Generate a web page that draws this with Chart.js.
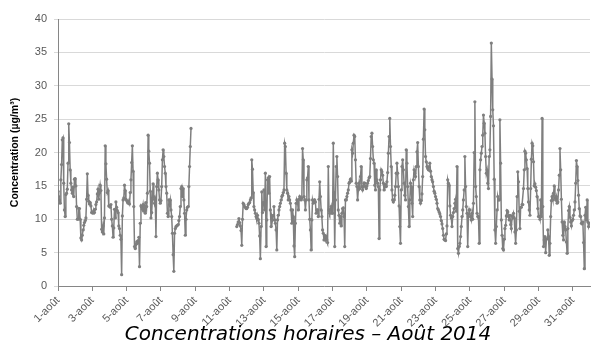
<!DOCTYPE html>
<html lang="fr">
<head>
<meta charset="utf-8">
<title>Concentrations horaires – Août 2014</title>
<script src="https://cdn.jsdelivr.net/npm/chart.js@4.4.1/dist/chart.umd.min.js"></script>
<style>
  html, body { margin: 0; padding: 0; background: #fff; }
  canvas { display: block; }
</style>
</head>
<body>
<canvas id="conc-chart" width="594" height="352"></canvas>
<script>
// Hourly concentrations, one row per day (24 values, null = no measurement)
const concentrations = [
  /* 1 */ 14.2, 13.4, 12.9, 12.4, 15.9, 18.2, 21.9, 22.2, 15.4, 11.4, 10.4, 13.7, 13.9, 14.5, 18.4, 24.3, 21.5, 17.4, 15.4, 14.4, 13.9, 14.8, 13.4, 16.0,
  /* 2 */ 16.1, 15.0, 11.9, 10.0, 10.0, 11.6, 11.6, 10.0, 7.2, 6.9, 7.6, 8.4, 9.1, 9.5, 9.8, 10.2, 13.0, 16.8, 13.6, 12.7, 12.3, 12.5, 12.0, 11.0,
  /* 3 */ 11.0, 10.9, 11.3, 11.0, 11.5, 12.2, 12.6, 13.8, 14.5, 13.0, 14.0, 15.1, 14.3, 8.5, 8.1, 9.0, 7.8, 10.2, 21.0, 18.3, 16.0, 14.0, 14.3, 12.0,
  /* 4 */ 12.0, 11.8, 12.2, 10.0, 9.0, 7.3, 8.7, 11.5, 10.2, 12.6, 11.8, 11.3, 11.0, 9.0, 8.6, 7.6, 7.0, 1.7, 10.5, 12.9, 13.2, 15.1, 14.3, 13.0,
  /* 5 */ 12.8, 12.6, 12.4, 12.6, 12.3, 14.0, 15.9, 18.5, 21.0, 17.2, 11.9, 5.9, 5.6, 6.2, 6.6, 6.4, 6.8, 7.3, 2.9, 9.4, 12.0, 11.8, 11.5, 12.2,
  /* 6 */ 11.2, 11.9, 10.9, 12.5, 11.9, 13.9, 22.6, 20.2, 18.4, 14.2, 10.2, 11.0, 13.0, 15.3, 13.4, 12.4, 12.9, 7.4, 14.9, 16.9, 15.9, 14.4, 12.9, 12.4,
  /* 7 */ 12.8, 14.9, 18.9, 20.4, 19.4, 17.9, 16.9, 14.9, 13.9, 10.9, 10.4, 12.9, 12.2, 12.9, 11.4, 10.4, 7.9, 4.7, 2.2, 7.9, 8.6, 8.9, 9.0, 9.1,
  /* 8 */ 9.2, 9.8, 10.4, 11.9, 14.6, 14.9, 13.4, 14.6, 12.9, 10.9, 7.6, 10.0, 11.4, 11.8, 11.9, 14.9, 17.9, 20.9, 23.6, null, null, null, null, null,
  /* 9 */ null, null, null, null, null, null, null, null, null, null, null, null, null, null, null, null, null, null, null, null, null, null, null, null,
  /* 10 */ null, null, null, null, null, null, null, null, null, null, null, null, null, null, null, null, null, null, null, null, null, null, null, null,
  /* 11 */ null, null, null, null, null, null, null, null, null, null, 8.9, 9.2, 9.6, 10.1, 9.5, 9.0, 8.3, 6.1, 10.0, 12.4, 12.2, 11.9, 11.8, 11.6,
  /* 12 */ 11.6, 11.8, 12.2, 12.4, 12.5, 12.9, 13.2, 18.9, 17.5, 14.0, 11.9, 11.4, 10.9, 10.4, 10.1, 10.6, 10.0, 9.4, 7.5, 4.1, 8.9, 14.1, 11.0, 12.5,
  /* 13 */ 14.4, 11.4, 16.9, 5.9, 9.9, 15.9, 16.2, 13.9, 16.4, 11.4, 8.9, 10.4, 9.9, 10.6, 11.9, 9.9, 9.4, 8.4, 5.4, 9.9, 10.6, 11.4, 11.9, 12.4,
  /* 14 */ 12.9, 13.4, 13.6, 14.0, 14.4, 21.4, 20.9, 16.9, 14.4, 13.9, 12.9, 13.4, 12.9, 12.4, 11.4, 9.4, 11.4, 10.4, 6.0, 4.4, 9.4, 12.4, 12.9, 12.6,
  /* 15 */ 11.4, 13.0, 13.4, 13.0, 12.9, 13.2, 20.6, 18.9, 13.4, 12.9, 11.4, 12.9, 15.9, 16.2, 17.9, 12.9, 10.0, 8.4, 5.4, 9.9, 12.9, 12.4, 12.6, 12.9,
  /* 16 */ 12.6, 10.9, 11.4, 11.4, 10.4, 13.0, 15.6, 13.4, 11.4, 10.4, 8.4, 7.9, 6.9, 7.6, 6.9, 7.4, 6.9, 6.5, 17.9, 11.4, 10.9, 11.4, 11.9, 10.9,
  /* 17 */ 10.9, 21.4, 14.0, 5.9, 12.9, 17.9, 19.4, 16.4, 11.4, 10.6, 9.4, 10.4, 9.0, 10.9, 11.6, 11.7, 10.4, 5.9, 12.9, 12.9, 13.4, 13.9, 14.4, 15.4,
  /* 18 */ 15.6, 16.0, 15.7, 20.4, 19.9, 21.4, 22.6, 22.4, 18.9, 15.4, 14.9, 12.9, 14.4, 15.4, 14.6, 16.4, 17.9, 14.9, 14.4, 14.9, 15.4, 15.4, 14.9, 14.6,
  /* 19 */ 15.0, 15.4, 15.8, 16.2, 16.4, 19.1, 22.4, 22.9, 20.9, 18.9, 18.4, 15.1, 14.4, 17.4, 15.9, 15.4, 14.9, 7.1, 14.4, 15.9, 17.4, 17.1, 16.6, 15.4,
  /* 20 */ 14.4, 15.0, 15.2, 14.9, 15.6, 17.0, 19.9, 22.4, 25.1, 20.9, 17.9, 14.4, 12.9, 12.6, 12.9, 13.6, 14.9, 16.9, 18.4, 16.9, 14.9, 12.0, 8.9, 6.4,
  /* 21 */ 14.4, 17.9, 18.9, 17.4, 15.4, 13.6, 12.9, 20.4, 18.4, 14.9, 11.9, 8.9, 12.9, 15.4, 14.9, 12.4, 10.4, 15.9, 17.4, 16.9, 16.4, 17.9, 20.1, 21.5,
  /* 22 */ 17.9, 14.9, 12.9, 12.4, 12.8, 13.8, 16.4, 22.0, 26.5, 23.4, 19.4, 18.6, 17.9, 17.6, 17.4, 17.9, 18.4, 17.2, 16.4, 15.9, 15.6, 14.9, 14.2, 13.9,
  /* 23 */ 13.4, 13.0, 12.4, 11.6, 11.4, 11.1, 10.8, 10.4, 9.8, 9.3, 8.6, 7.6, 7.0, 6.9, 6.8, 7.8, 9.0, 15.9, 15.4, 15.1, 12.0, 10.6, 10.2, 8.9,
  /* 24 */ 10.4, 11.0, 11.6, 12.4, 13.0, 11.2, 17.9, 5.6, 4.9, 5.9, 6.4, 7.4, 8.9, 10.4, 11.4, 12.9, 14.4, 19.4, 14.9, 11.9, 10.9, 5.9, 10.4, 11.4,
  /* 25 */ 11.4, 10.4, 9.9, 10.9, 10.0, 12.4, 20.0, 27.6, 14.9, 13.4, 10.9, 10.4, 10.4, 6.4, 17.4, 18.9, 19.9, 20.9, 22.6, 25.6, 24.4, 22.9, 19.4, 16.9,
  /* 26 */ 17.4, 15.4, 14.6, 19.4, 20.4, 25.4, 36.4, 31.0, 26.4, 24.0, 16.0, 8.4, 6.4, 8.9, 11.4, 13.4, 12.9, 12.9, 24.9, 18.4, 9.9, 7.6, 5.6, 5.4,
  /* 27 */ 7.0, 8.6, 9.1, 10.5, 11.3, 11.1, 10.4, 9.9, 10.6, 9.2, 8.6, 10.5, 10.4, 10.9, 10.2, 8.1, 6.4, 8.4, 13.4, 17.1, 15.6, 11.2, 8.6, 11.8,
  /* 28 */ 11.8, 12.2, 12.2, 14.6, 17.4, 20.2, 19.9, 18.9, 17.6, 14.6, 12.6, 11.4, 10.6, 14.6, 19.0, 21.4, 21.0, 18.6, 15.0, 15.3, 14.8, 14.3, 13.4, 11.6,
  /* 29 */ 10.4, 10.4, 10.0, 12.9, 10.4, 25.1, 11.9, 5.9, 6.9, 7.4, 5.0, 7.0, 7.1, 8.4, 7.4, 4.6, 6.4, 10.4, 12.8, 13.4, 12.9, 13.9, 15.0, 13.2,
  /* 30 */ 12.9, 13.4, 12.4, 12.6, 14.4, 16.6, 20.6, 17.4, 13.0, 9.6, 7.6, 6.9, 9.6, 8.9, 8.4, 6.6, 4.9, 8.6, 11.3, 11.9, 10.3, 9.6, 9.0, 9.8,
  /* 31 */ 10.0, 10.6, 11.4, 12.6, 15.4, 18.8, 17.9, 15.8, 13.6, 11.6, 10.5, 10.4, 9.4, 9.3, 9.6, 6.5, 2.6, 10.6, 11.8, 9.9, 12.9, 9.6, 8.9, 9.4
];

// Date ticks every two days
const tickLabels = [
  "1-août", "3-août", "5-août", "7-août", "9-août", "11-août", "13-août", "15-août",
  "17-août", "19-août", "21-août", "23-août", "25-août", "27-août", "29-août", "31-août"
];
const hoursPerTick = 48;

const chartTitle = "Concentrations horaires – Août 2014";
const axisTitle = "Concentration (µg/m³)";

const fontFamily = "'Liberation Sans', Arial, sans-serif";
const captionFont = "oblique 20px 'DejaVu Sans', sans-serif";
const lineGrey = "#7f7f7f";
const axisGrey = "#868686";
const labelGrey = "#595959";

// Caption under the chart
const captionPlugin = {
  id: "caption",
  afterDraw(chart) {
    const c = chart.ctx;
    c.save();
    c.font = captionFont;
    c.fillStyle = "#000";
    c.textAlign = "center";
    c.textBaseline = "alphabetic";
    c.fillText(chartTitle, 308, 340);
    c.restore();
  }
};

const canvas = document.getElementById("conc-chart");

new Chart(canvas, {
  type: "line",
  data: {
    datasets: [
      {
        data: concentrations.map((v, i) => ({ x: i, y: v })),
        borderColor: lineGrey,
        borderWidth: 1.5,
        pointRadius: 1.6,
        pointBackgroundColor: lineGrey,
        pointBorderWidth: 0,
        spanGaps: false,
        tension: 0,
      },
    ],
  },
  options: {
    responsive: false,
    animation: false,
    layout: { padding: { top: 19, right: 2, left: 0, bottom: 0 } },
    plugins: {
      legend: { display: false },
      tooltip: { enabled: false },
    },
    scales: {
      x: {
        type: "linear",
        min: 0,
        max: 744,
        afterBuildTicks: (scale) => {
          scale.ticks = tickLabels.map((_, i) => ({ value: i * hoursPerTick }));
        },
        afterFit: (scale) => {
          scale.height = 66;
        },
        ticks: {
          autoSkip: false,
          maxRotation: 45,
          minRotation: 45,
          padding: 3,
          color: labelGrey,
          font: { family: fontFamily, size: 11 },
          callback: (v) => tickLabels[v / hoursPerTick],
        },
        grid: {
          drawOnChartArea: false,
          drawTicks: true,
          tickLength: 5,
          color: axisGrey,
        },
        border: { color: axisGrey },
      },
      y: {
        min: 0,
        max: 40,
        afterFit: (scale) => {
          scale.width = 58;
        },
        ticks: {
          stepSize: 5,
          padding: 7,
          color: labelGrey,
          font: { family: fontFamily, size: 11 },
        },
        grid: { color: "#d9d9d9", tickLength: 4 },
        border: { color: axisGrey },
        title: {
          display: true,
          text: axisTitle,
          color: "#000",
          font: { family: fontFamily, size: 10.5, weight: "bold" },
          padding: { top: 9, bottom: 0 },
        },
      },
    },
  },
  plugins: [captionPlugin],
});
</script>
</body>
</html>
